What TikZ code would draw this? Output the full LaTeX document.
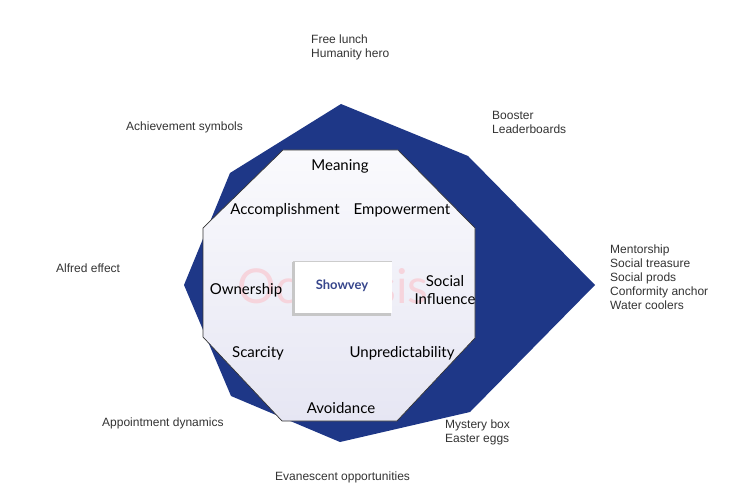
\documentclass[tikz,border=0pt]{standalone}
\usepackage{fontspec}
\setmainfont{Liberation Sans}
\newfontfamily\corefont{Lato}
\definecolor{deepblue}{RGB}{30,55,135}
\definecolor{octfill}{RGB}{250,250,253}
\definecolor{octfillb}{RGB}{230,230,243}
\definecolor{outertext}{RGB}{51,51,51}
\definecolor{ghostpink}{RGB}{246,212,220}
\definecolor{brandblue}{RGB}{55,70,140}
\tikzset{
  outer/.style={anchor=north west, inner sep=0pt, align=left, font=\fontsize{12}{14}\selectfont, text=outertext},
  drive/.style={inner sep=0pt, align=center, font=\corefont\fontsize{15}{18}\selectfont, text=black},
}
\begin{document}
\begin{tikzpicture}[x=1pt,y=-1pt]
\useasboundingbox (0,0) rectangle (738,502);
% profile of the project across the eight drives
\fill[deepblue] (341,104) -- (468,156) -- (595,285) -- (470,412) -- (340,442)
  -- (231,396) -- (184,285) -- (230,173) -- cycle;
% the octagon of core drives
\shade[top color=octfill, bottom color=octfillb]
  (283,150) -- (398,150) -- (475,228) -- (475,338) -- (397,421) -- (282,421)
  -- (203,337) -- (203,228) -- cycle;
\draw[black!80, line width=0.7pt]
  (283,150) -- (398,150) -- (475,228) -- (475,338) -- (397,421) -- (282,421)
  -- (203,337) -- (203,228) -- cycle;
% watermark
\node[inner sep=0pt, text=ghostpink, font=\corefont\fontsize{48}{50}\selectfont] (wm) at (333,290) {Octalysis};
% central badge
\fill[black!22] (292,262) rectangle (391,316);
\fill[white] (295,261) rectangle (392,313);
\draw[black!20, line width=0.6pt] (293,261) -- (392,261);
\node[inner sep=0pt, text=brandblue, font=\corefont\bfseries\fontsize{13}{15}\selectfont] (brand) at (342,286) {Showvey};
% drive labels
\node[drive] (meaning) at (340,166) {Meaning};
\node[drive] (accomp) at (285,210) {Accomplishment};
\node[drive] (empower) at (402,210) {Empowerment};
\node[drive] (owner) at (246,290) {Ownership};
\node[drive] (social) at (445,290) {Social\\Influence};
\node[drive] (scarce) at (258,353) {Scarcity};
\node[drive] (unpred) at (402,353) {Unpredictability};
\node[drive] (avoid) at (341,408) {Avoidance};
% techniques around the octagon
\node[outer] (t1) at (311,35) {Free lunch\\Humanity hero};
\node[outer] (t2) at (492,111) {Booster\\Leaderboards};
\node[outer] (t3) at (126,122) {Achievement symbols};
\node[outer] (t4) at (56,264) {Alfred effect};
\node[outer] (t5) at (610,245) {Mentorship\\Social treasure\\Social prods\\Conformity anchor\\Water coolers};
\node[outer] (t6) at (102,418) {Appointment dynamics};
\node[outer] (t7) at (445,420) {Mystery box\\Easter eggs};
\node[outer] (t8) at (275,472) {Evanescent opportunities};
\end{tikzpicture}
\end{document}
